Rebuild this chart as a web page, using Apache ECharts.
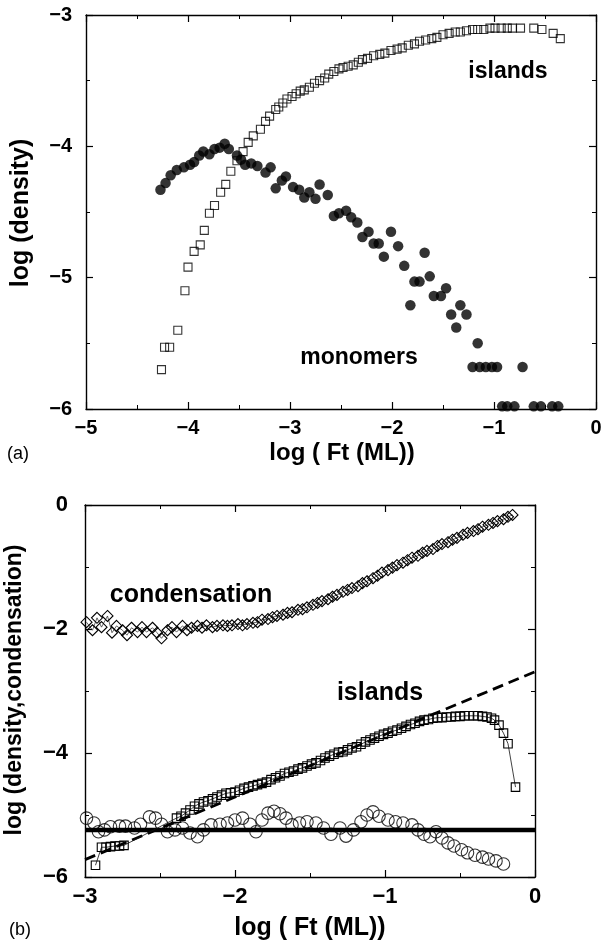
<!DOCTYPE html>
<html>
<head>
<meta charset="utf-8">
<script src="https://cdn.jsdelivr.net/npm/echarts@6/dist/echarts.min.js"></script>
<style>
  html, body { margin: 0; padding: 0; background: #fff; }
  #chart { width: 605px; height: 943px; }
</style>
</head>
<body>
<div id="chart"></div>
<script>
// ---- panel (a): log density vs log coverage ----
const islandsA = [
  [-4.26,-5.70],[-4.23,-5.53],[-4.18,-5.53],[-4.10,-5.40],[-4.03,-5.10],[-4.00,-4.92],
  [-3.94,-4.80],[-3.88,-4.75],[-3.84,-4.64],[-3.79,-4.51],[-3.74,-4.45],[-3.68,-4.35],
  [-3.63,-4.29],[-3.58,-4.19],[-3.52,-4.11],[-3.46,-4.04],[-3.41,-3.97],[-3.36,-3.92],
  [-3.29,-3.87],[-3.24,-3.81],[-3.20,-3.77],[-3.14,-3.72],[-3.11,-3.70],[-3.07,-3.67],
  [-3.03,-3.64],[-2.98,-3.62],[-2.94,-3.60],[-2.90,-3.58],[-2.86,-3.57],[-2.81,-3.55],
  [-2.76,-3.52],[-2.71,-3.50],[-2.66,-3.48],[-2.62,-3.45],[-2.57,-3.43],[-2.52,-3.41],
  [-2.48,-3.40],[-2.43,-3.39],[-2.38,-3.38],[-2.33,-3.36],[-2.29,-3.34],[-2.24,-3.33],
  [-2.18,-3.31],[-2.12,-3.30],[-2.07,-3.29],[-2.01,-3.27],[-1.95,-3.26],[-1.90,-3.25],
  [-1.84,-3.23],[-1.78,-3.22],[-1.73,-3.20],[-1.67,-3.19],[-1.61,-3.18],[-1.56,-3.17],
  [-1.50,-3.15],[-1.44,-3.14],[-1.38,-3.13],[-1.33,-3.13],[-1.27,-3.12],[-1.21,-3.11],
  [-1.16,-3.11],[-1.10,-3.11],[-1.04,-3.10],[-0.99,-3.10],[-0.93,-3.10],[-0.87,-3.10],
  [-0.82,-3.10],[-0.74,-3.10],[-0.61,-3.10],[-0.53,-3.11],[-0.42,-3.14],[-0.35,-3.18]
];
const monomersA = [
  [-4.27,-4.33],[-4.22,-4.28],[-4.17,-4.22],[-4.11,-4.18],[-4.04,-4.16],[-3.98,-4.14],
  [-3.94,-4.12],[-3.89,-4.07],[-3.85,-4.04],[-3.79,-4.06],[-3.74,-4.02],[-3.69,-4.01],
  [-3.64,-3.98],[-3.60,-4.02],[-3.52,-4.07],[-3.48,-4.10],[-3.44,-4.14],[-3.38,-4.13],
  [-3.32,-4.15],[-3.24,-4.20],[-3.19,-4.16],[-3.14,-4.32],[-3.08,-4.26],[-3.04,-4.23],
  [-2.97,-4.31],[-2.91,-4.33],[-2.86,-4.39],[-2.81,-4.35],[-2.75,-4.40],[-2.71,-4.29],
  [-2.63,-4.37],[-2.57,-4.53],[-2.52,-4.51],[-2.45,-4.49],[-2.40,-4.54],[-2.34,-4.58],
  [-2.29,-4.69],[-2.23,-4.65],[-2.18,-4.74],[-2.13,-4.74],[-2.08,-4.84],[-2.01,-4.65],
  [-1.94,-4.76],[-1.88,-4.91],[-1.82,-5.21],[-1.78,-5.03],[-1.73,-5.03],[-1.68,-4.81],
  [-1.63,-4.99],[-1.59,-5.14],[-1.52,-5.14],[-1.47,-5.08],[-1.42,-5.28],[-1.37,-5.38],
  [-1.33,-5.21],[-1.27,-5.28],[-1.16,-5.50],[-1.21,-5.68],[-1.14,-5.68],[-1.08,-5.68],
  [-1.02,-5.68],[-0.97,-5.68],[-0.72,-5.68],[-0.92,-5.98],[-0.87,-5.98],[-0.80,-5.98],
  [-0.61,-5.98],[-0.54,-5.98],[-0.43,-5.98],[-0.37,-5.98]
];

// ---- panel (b): densities and condensation ----
const condensationB = [
  [-2.99,-1.89],[-2.95,-2.02],[-2.92,-1.82],[-2.89,-1.97],[-2.85,-1.79],[-2.82,-2.06],
  [-2.79,-1.95],[-2.75,-2.02],[-2.72,-2.10],[-2.69,-1.98],[-2.65,-2.05],[-2.62,-1.97],
  [-2.59,-2.05],[-2.55,-1.98],[-2.52,-2.06],[-2.49,-2.15],[-2.45,-2.02],[-2.42,-1.97],
  [-2.39,-2.05],[-2.35,-1.95],[-2.32,-2.02],[-2.29,-1.98],[-2.25,-1.95],[-2.22,-1.98],
  [-2.19,-1.94],[-2.15,-1.97],[-2.12,-1.95],[-2.08,-1.94],[-2.05,-1.95],[-2.02,-1.94],
  [-1.98,-1.92],[-1.95,-1.94],[-1.92,-1.92],[-1.88,-1.90],[-1.85,-1.89],[-1.82,-1.85],
  [-1.78,-1.84],[-1.75,-1.81],[-1.72,-1.79],[-1.68,-1.77],[-1.65,-1.74],[-1.62,-1.73],
  [-1.58,-1.69],[-1.55,-1.68],[-1.52,-1.65],[-1.48,-1.61],[-1.45,-1.58],[-1.42,-1.55],
  [-1.38,-1.52],[-1.35,-1.48],[-1.32,-1.45],[-1.28,-1.40],[-1.25,-1.37],[-1.22,-1.34],
  [-1.18,-1.31],[-1.15,-1.26],[-1.12,-1.23],[-1.08,-1.18],[-1.05,-1.14],[-1.02,-1.09],
  [-0.98,-1.05],[-0.95,-1.01],[-0.92,-0.97],[-0.88,-0.93],[-0.85,-0.89],[-0.82,-0.85],
  [-0.78,-0.82],[-0.75,-0.77],[-0.72,-0.74],[-0.68,-0.71],[-0.65,-0.66],[-0.62,-0.63],
  [-0.58,-0.60],[-0.55,-0.56],[-0.52,-0.53],[-0.48,-0.48],[-0.45,-0.45],[-0.41,-0.42],
  [-0.38,-0.39],[-0.35,-0.35],[-0.31,-0.32],[-0.28,-0.29],[-0.25,-0.26],[-0.21,-0.23],
  [-0.18,-0.19],[-0.15,-0.16]
];
const islandsB = [
  [-2.93,-5.81],[-2.89,-5.52],[-2.86,-5.52],[-2.83,-5.51],[-2.80,-5.50],[-2.77,-5.50],
  [-2.74,-5.49],[-2.39,-5.05],[-2.36,-5.02],[-2.33,-4.97],[-2.30,-4.92],[-2.27,-4.86],
  [-2.24,-4.82],[-2.21,-4.79],[-2.18,-4.77],[-2.15,-4.74],[-2.12,-4.71],[-2.09,-4.68],
  [-2.06,-4.65],[-2.03,-4.64],[-2.00,-4.63],[-1.97,-4.60],[-1.94,-4.57],[-1.91,-4.55],
  [-1.88,-4.53],[-1.85,-4.51],[-1.82,-4.49],[-1.79,-4.47],[-1.76,-4.43],[-1.73,-4.40],
  [-1.70,-4.37],[-1.67,-4.33],[-1.64,-4.31],[-1.61,-4.29],[-1.58,-4.26],[-1.55,-4.24],
  [-1.52,-4.21],[-1.49,-4.18],[-1.46,-4.16],[-1.43,-4.12],[-1.40,-4.08],[-1.37,-4.05],
  [-1.34,-4.02],[-1.31,-3.99],[-1.28,-3.98],[-1.25,-3.95],[-1.22,-3.92],[-1.19,-3.90],
  [-1.16,-3.86],[-1.13,-3.82],[-1.10,-3.79],[-1.07,-3.76],[-1.04,-3.73],[-1.01,-3.70],
  [-0.98,-3.68],[-0.95,-3.65],[-0.92,-3.63],[-0.89,-3.60],[-0.86,-3.57],[-0.83,-3.54],
  [-0.80,-3.52],[-0.77,-3.49],[-0.74,-3.47],[-0.71,-3.46],[-0.68,-3.44],[-0.65,-3.43],
  [-0.62,-3.43],[-0.59,-3.42],[-0.56,-3.42],[-0.53,-3.41],[-0.50,-3.41],[-0.47,-3.40],
  [-0.44,-3.40],[-0.41,-3.40],[-0.38,-3.40],[-0.35,-3.41],[-0.32,-3.42],[-0.29,-3.44],
  [-0.27,-3.47],[-0.24,-3.55],[-0.21,-3.68],[-0.18,-3.85],[-0.13,-4.55]
];
const monomersB = [
  [-2.99,-5.05],[-2.94,-5.13],[-2.91,-5.27],[-2.87,-5.24],[-2.83,-5.19],[-2.77,-5.18],
  [-2.73,-5.18],[-2.67,-5.21],[-2.63,-5.15],[-2.57,-5.03],[-2.53,-5.05],[-2.49,-5.15],
  [-2.45,-5.27],[-2.40,-5.24],[-2.35,-5.21],[-2.30,-5.29],[-2.25,-5.35],[-2.21,-5.24],
  [-2.16,-5.16],[-2.10,-5.15],[-2.05,-5.13],[-2.00,-5.08],[-1.95,-5.05],[-1.90,-5.15],
  [-1.86,-5.27],[-1.82,-5.08],[-1.78,-4.97],[-1.74,-4.94],[-1.70,-4.98],[-1.66,-5.05],
  [-1.62,-5.16],[-1.57,-5.13],[-1.52,-5.11],[-1.46,-5.13],[-1.41,-5.21],[-1.36,-5.31],
  [-1.30,-5.21],[-1.26,-5.34],[-1.21,-5.24],[-1.16,-5.11],[-1.12,-5.00],[-1.08,-4.95],
  [-1.04,-5.02],[-0.98,-5.08],[-0.93,-5.11],[-0.88,-5.13],[-0.82,-5.16],[-0.78,-5.24],
  [-0.74,-5.31],[-0.70,-5.35],[-0.66,-5.27],[-0.62,-5.37],[-0.58,-5.45],[-0.54,-5.50],
  [-0.49,-5.56],[-0.45,-5.61],[-0.40,-5.65],[-0.35,-5.68],[-0.31,-5.71],[-0.26,-5.74],
  [-0.21,-5.79]
];
// power-law fit to island density and the steady monomer level
const fitLine = [[-3, -5.72], [0, -2.69]];
const monomerLevel = [[-3, -5.24], [0, -5.24]];

const ticksA_x = { min: -5, max: 0, interval: 1 };
const ticksA_y = { min: -6, max: -3, interval: 1 };
const ticksB_x = { min: -3, max: 0, interval: 1 };
const ticksB_y = { min: -6, max: 0, interval: 2 };

const FONT = '"Liberation Sans", Arial, Helvetica, sans-serif';
const minus = v => String(v).replace('-', '\u2212');

function axis(gridIndex, range, opts) {
  return Object.assign({
    type: 'value',
    gridIndex: gridIndex,
    min: range.min, max: range.max, interval: range.interval,
    axisLine: { show: true, onZero: false, lineStyle: { color: '#000', width: 1.4 } },
    axisTick: { show: true, inside: true, length: 7, lineStyle: { color: '#000', width: 1.2 } },
    minorTick: { show: true, splitNumber: 2, length: 4, lineStyle: { color: '#000', width: 1 } },
    splitLine: { show: false },
    minorSplitLine: { show: false },
    axisLabel: { show: false }
  }, opts);
}

const labelA = { show: true, formatter: minus, color: '#000', fontFamily: FONT, fontWeight: 'bold', fontSize: 20 };
const labelB = { show: true, formatter: minus, color: '#000', fontFamily: FONT, fontWeight: 'bold', fontSize: 22 };

const hollow = { color: 'rgba(0,0,0,0)', borderColor: '#000', borderWidth: 1.1 };

const chart = echarts.init(document.getElementById('chart'), null, { renderer: 'canvas' });
chart.setOption({
  animation: false,
  backgroundColor: '#fff',
  grid: [
    { left: 86, top: 15, width: 510, height: 394 },
    { left: 85, top: 505, width: 450, height: 372 }
  ],
  xAxis: [
    axis(0, ticksA_x, { position: 'bottom', axisLabel: Object.assign({ margin: 9 }, labelA) }),
    axis(0, ticksA_x, { position: 'top' }),
    axis(1, ticksB_x, { position: 'bottom', axisLabel: Object.assign({ margin: 9 }, labelB) }),
    axis(1, ticksB_x, { position: 'top' })
  ],
  yAxis: [
    axis(0, ticksA_y, { position: 'left', axisLabel: Object.assign({ margin: 14 }, labelA) }),
    axis(0, ticksA_y, { position: 'right' }),
    axis(1, ticksB_y, { position: 'left', axisLabel: Object.assign({ margin: 17 }, labelB) }),
    axis(1, ticksB_y, { position: 'right' })
  ],
  series: [
    {
      name: 'islands (a)', type: 'scatter', xAxisIndex: 0, yAxisIndex: 0,
      data: islandsA, symbol: 'rect', symbolSize: 8, itemStyle: hollow
    },
    {
      name: 'monomers (a)', type: 'scatter', xAxisIndex: 0, yAxisIndex: 0,
      data: monomersA, symbol: 'circle', symbolSize: 10.5, itemStyle: { color: '#000' }
    },
    {
      name: 'condensation', type: 'line', xAxisIndex: 2, yAxisIndex: 2,
      data: condensationB, symbol: 'diamond', symbolSize: 11, showSymbol: true,
      lineStyle: { color: '#222', width: 0.7 }, itemStyle: hollow
    },
    {
      name: 'fit', type: 'line', xAxisIndex: 2, yAxisIndex: 2,
      data: fitLine, symbol: 'none',
      lineStyle: { color: '#000', width: 2.8, type: [11, 6] }
    },
    {
      name: 'monomer level', type: 'line', xAxisIndex: 2, yAxisIndex: 2,
      data: monomerLevel, symbol: 'none',
      lineStyle: { color: '#000', width: 4.5 }
    },
    {
      name: 'islands (b)', type: 'line', xAxisIndex: 2, yAxisIndex: 2,
      data: islandsB, symbol: 'rect', symbolSize: 8.5, showSymbol: true,
      lineStyle: { color: '#111', width: 0.8 }, itemStyle: hollow
    },
    {
      name: 'monomers (b)', type: 'scatter', xAxisIndex: 2, yAxisIndex: 2,
      data: monomersB, symbol: 'circle', symbolSize: 12.5, itemStyle: hollow
    }
  ],
  graphic: [
    { type: 'text', x: 508, y: 72, style: { text: 'islands', font: 'bold 23px ' + FONT, fill: '#000', align: 'center', verticalAlign: 'middle' } },
    { type: 'text', x: 359, y: 358, style: { text: 'monomers', font: 'bold 23px ' + FONT, fill: '#000', align: 'center', verticalAlign: 'middle' } },
    { type: 'text', x: 342, y: 453, style: { text: 'log ( Ft (ML))', font: 'bold 24px ' + FONT, fill: '#000', align: 'center', verticalAlign: 'middle' } },
    { type: 'text', x: 21, y: 213, rotation: Math.PI / 2, style: { text: 'log (density)', font: 'bold 25px ' + FONT, fill: '#000', align: 'center', verticalAlign: 'middle' } },
    { type: 'text', x: 18, y: 454, style: { text: '(a)', font: '18px ' + FONT, fill: '#000', align: 'center', verticalAlign: 'middle' } },
    { type: 'text', x: 191, y: 595, style: { text: 'condensation', font: 'bold 25px ' + FONT, fill: '#000', align: 'center', verticalAlign: 'middle' } },
    { type: 'text', x: 380, y: 693, style: { text: 'islands', font: 'bold 25px ' + FONT, fill: '#000', align: 'center', verticalAlign: 'middle' } },
    { type: 'text', x: 310, y: 928, style: { text: 'log ( Ft (ML))', font: 'bold 25px ' + FONT, fill: '#000', align: 'center', verticalAlign: 'middle' } },
    { type: 'text', x: 15, y: 690, rotation: Math.PI / 2, style: { text: 'log (density,condensation)', font: 'bold 23px ' + FONT, fill: '#000', align: 'center', verticalAlign: 'middle' } },
    { type: 'text', x: 20, y: 930, style: { text: '(b)', font: '18px ' + FONT, fill: '#000', align: 'center', verticalAlign: 'middle' } }
  ]
});
</script>
</body>
</html>
